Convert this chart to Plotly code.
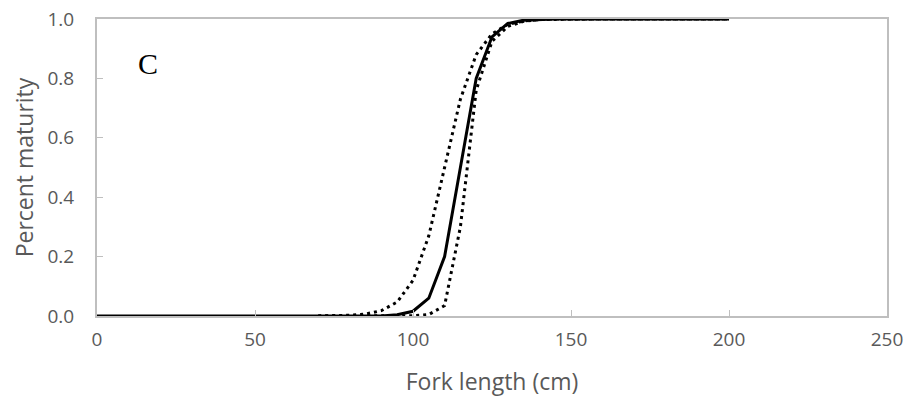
import plotly.graph_objects as go

# Solid fitted curve
fit_x = list(range(0, 205, 5))
fit_y = [0.0] * 19 + [0.004, 0.016, 0.06, 0.20, 0.50, 0.80, 0.94, 0.985, 0.996, 0.999] + [1.0] * 12

# Dotted bounds
bound_x = list(range(70, 205, 5))
lower_y = [0.0003, 0.0009, 0.0025, 0.0067, 0.018, 0.047, 0.12, 0.27, 0.50, 0.73, 0.88, 0.95,
           0.982, 0.993, 0.998, 0.999] + [1.0] * 11
upper_y = [0.0, 0.0, 0.0, 0.0, 0.0, 0.0, 0.001, 0.005, 0.035, 0.30, 0.76, 0.925,
           0.975, 0.992, 0.998, 1.0] + [1.0] * 11

x_ticks = [0, 50, 100, 150, 200, 250]
y_ticks = [0.0, 0.2, 0.4, 0.6, 0.8, 1.0]
y_tick_labels = ["0.0", "0.2", "0.4", "0.6", "0.8", "1.0"]

fig = go.Figure()
fig.add_trace(go.Scatter(x=bound_x, y=lower_y, mode="lines", cliponaxis=False,
                         line=dict(color="black", width=3, dash="3px,4px"), showlegend=False))
fig.add_trace(go.Scatter(x=bound_x, y=upper_y, mode="lines", cliponaxis=False,
                         line=dict(color="black", width=3, dash="3px,4px"), showlegend=False))
fig.add_trace(go.Scatter(x=fit_x, y=fit_y, mode="lines", cliponaxis=False,
                         line=dict(color="black", width=3), showlegend=False))

axis_color = "#bfbfbf"
font_color = "#595959"
fig.update_layout(
    width=905, height=402,
    margin=dict(l=97, r=18, t=19, b=86),
    paper_bgcolor="white", plot_bgcolor="white",
    font=dict(family="Open Sans, sans-serif", size=19, color=font_color),
    xaxis=dict(range=[0, 250], tickvals=x_ticks, showgrid=False, zeroline=False,
               automargin=False, ticklabeloverflow="allow",
               showline=True, linecolor=axis_color, linewidth=2, mirror=True,
               ticks="inside", ticklen=6, tickcolor=axis_color, tickwidth=1,
               ticklabelstandoff=5,
               title=dict(text="Fork length (cm)", standoff=23, font=dict(size=23))),
    yaxis=dict(range=[0, 1.0], tickvals=y_ticks, ticktext=y_tick_labels, showgrid=False,
               automargin=False, ticklabeloverflow="allow",
               zeroline=False, showline=True, linecolor=axis_color, linewidth=2, mirror=True,
               ticks="inside", ticklen=6, tickcolor=axis_color, tickwidth=1,
               ticklabelstandoff=17,
               title=dict(text="Percent maturity", standoff=7, font=dict(size=23))),
    annotations=[dict(x=16, y=0.85, xref="x", yref="y", text="C", showarrow=False,
                      font=dict(family="Liberation Serif, Times New Roman, serif", size=30,
                                color="black"))],
)

fig.write_html("out.html", config={"displayModeBar": False},
               post_script="document.body.style.margin='0';document.body.style.overflow='hidden';")
